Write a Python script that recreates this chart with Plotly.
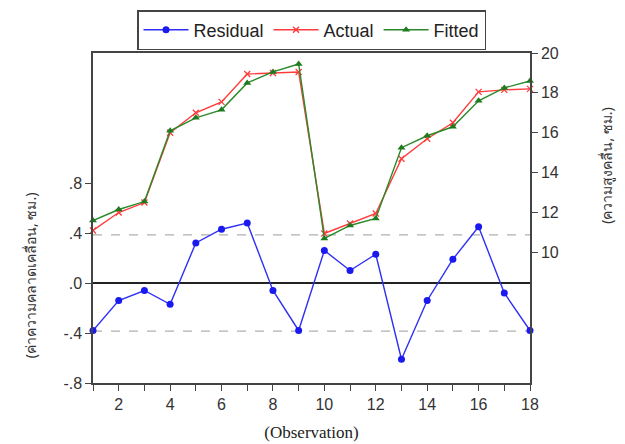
import plotly.graph_objects as go

obs = list(range(1, 19))
residual = [-0.38, -0.14, -0.06, -0.17, 0.32, 0.43, 0.48, -0.06, -0.38, 0.26,
            0.10, 0.23, -0.61, -0.14, 0.19, 0.45, -0.08, -0.38]
actual = [11.1, 12.0, 12.5, 16.0, 17.0, 17.55, 18.95, 19.0, 19.05, 10.95,
          11.45, 11.95, 14.7, 15.7, 16.5, 18.05, 18.15, 18.2]
fitted = [11.6, 12.15, 12.55, 16.1, 16.75, 17.15, 18.5, 19.05, 19.45, 10.7,
          11.35, 11.7, 15.25, 15.85, 16.3, 17.6, 18.25, 18.6]
std_band = 0.385

left_ticks = [-0.8, -0.4, 0.0, 0.4, 0.8]
left_labels = ["-.8", "-.4", ".0", ".4", ".8"]
right_ticks = [10, 12, 14, 16, 18, 20]
x_labels = [str(i) if i % 2 == 0 else "" for i in obs]
left_title = "(ค่าความคลาดเคลื่อน, ซม.)"
right_title = "(ความสูงคลื่น, ซม.)"

axis_col = "#444444"
font_col = "#333333"
thai_font = dict(family="Noto Sans, DejaVu Sans, sans-serif", size=14, color="#333333")

fig = go.Figure()
fig.add_trace(go.Scatter(x=obs, y=residual, name="Residual", mode="lines+markers",
                         line=dict(color="#2f2ff5", width=1.4),
                         marker=dict(symbol="circle", size=7, color="#1a1af0"),
                         cliponaxis=False, yaxis="y"))
fig.add_trace(go.Scatter(x=obs, y=actual, name="Actual", mode="lines+markers",
                         line=dict(color="#ff3b3b", width=1.4),
                         marker=dict(symbol="x-thin", size=6, color="#ff3b3b",
                                     line=dict(color="#ff3b3b", width=1.3)),
                         cliponaxis=False, yaxis="y2"))
fig.add_trace(go.Scatter(x=obs, y=fitted, name="Fitted", mode="lines+markers",
                         line=dict(color="#2a8a2a", width=1.4),
                         marker=dict(symbol="triangle-up", size=7, color="#1e7a1e"),
                         cliponaxis=False, yaxis="y2"))

for v in (std_band, -std_band):
    fig.add_shape(type="line", xref="paper", x0=0, x1=1, yref="y", y0=v, y1=v,
                  line=dict(color="#b0b0b0", width=1.2, dash="dash"), layer="below")

fig.add_annotation(text=left_title, xref="paper", yref="paper", x=-0.144, y=0.327,
                   xanchor="center", yanchor="middle", textangle=-90,
                   showarrow=False, font=thai_font)
fig.add_annotation(text=right_title, xref="paper", yref="paper", x=1.176, y=0.661,
                   xanchor="center", yanchor="middle", textangle=-90,
                   showarrow=False, font=thai_font)

fig.update_layout(
    width=625, height=444,
    margin=dict(l=85, r=103, t=45, b=69, autoexpand=False),
    paper_bgcolor="white", plot_bgcolor="white",
    font=dict(family="Arial, Liberation Sans, sans-serif", size=16, color=font_col),
    showlegend=True,
    legend=dict(orientation="h", x=0.5, xanchor="center", y=1.13, yanchor="top",
                bordercolor="#444444", borderwidth=1.5, bgcolor="white",
                font=dict(size=18, color="#222222"), itemwidth=45,
                tracegroupgap=0),
    xaxis=dict(range=[1, 18], tickvals=obs, ticktext=x_labels, ticks="outside",
               ticklen=6, tickcolor=axis_col, showline=True, linecolor=axis_col,
               linewidth=1.5, mirror=True, showgrid=False, zeroline=False,
               title=dict(text="(Observation)", standoff=14,
                          font=dict(family="Liberation Serif, Times New Roman, serif",
                                    size=17, color="#222222"))),
    yaxis=dict(range=[-0.8, 1.84], tickvals=left_ticks, ticktext=left_labels,
               ticks="outside", ticklen=6, tickcolor=axis_col, showline=True,
               linecolor=axis_col, linewidth=1.5, mirror=True, showgrid=False,
               zeroline=True, zerolinecolor="#222222", zerolinewidth=1.5),
    yaxis2=dict(range=[3.45, 20], overlaying="y", side="right", tickvals=right_ticks,
                ticks="outside", ticklen=6, tickcolor=axis_col, showline=True,
                linecolor=axis_col, linewidth=1.5, showgrid=False, zeroline=False),
)

fig.write_html("out.html")
